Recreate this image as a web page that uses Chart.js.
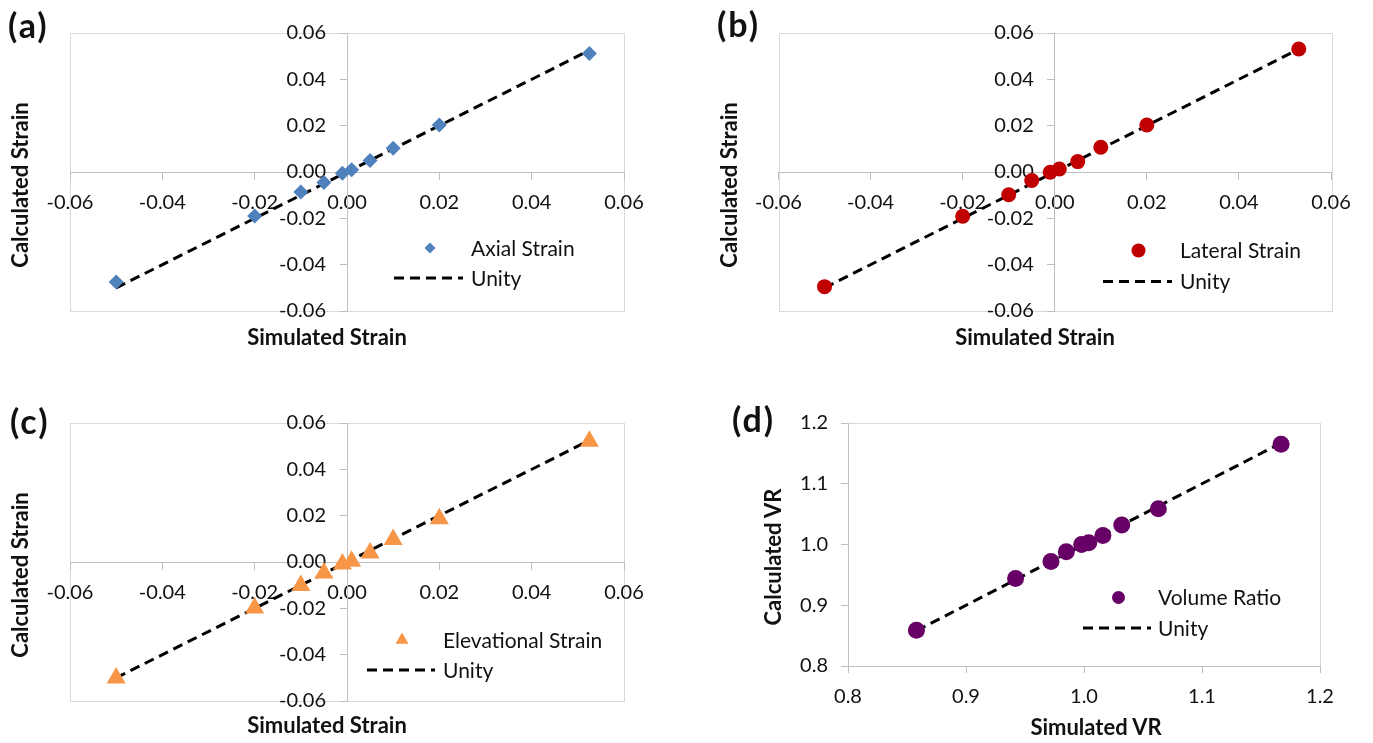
<!DOCTYPE html>
<html>
<head>
<meta charset="utf-8">
<script src="https://cdn.jsdelivr.net/npm/chart.js@4/dist/chart.umd.min.js"></script>
<style>
html,body{margin:0;padding:0;background:#fff;width:1373px;height:743px;overflow:hidden;font-family:Lato,"Open Sans",sans-serif;}
canvas{position:absolute;}
.lbl{position:absolute;color:#111;white-space:nowrap;line-height:1;font-weight:bold;}
.panel{font-size:34px;letter-spacing:2px;transform:translateY(-50%);}
.xt{font-size:22px;transform:translate(-50%,-50%);}
.yt{font-size:22px;transform:translate(-50%,-50%) rotate(-90deg);}
</style>
</head>
<body>
<canvas id="ca" width="686" height="372" style="left:0;top:0"></canvas>
<canvas id="cb" width="687" height="372" style="left:686px;top:0"></canvas>
<canvas id="cc" width="686" height="371" style="left:0;top:372px"></canvas>
<canvas id="cd" width="687" height="371" style="left:686px;top:372px"></canvas>

<div class="lbl panel" style="left:8px;top:25px">(a)</div>
<div class="lbl panel" style="left:717px;top:24px">(b)</div>
<div class="lbl panel" style="left:10px;top:421px">(c)</div>
<div class="lbl panel" style="left:732px;top:419px">(d)</div>

<div class="lbl xt" style="left:327px;top:337px">Simulated Strain</div>
<div class="lbl yt" style="left:20px;top:185px">Calculated Strain</div>
<div class="lbl xt" style="left:1035px;top:337px">Simulated Strain</div>
<div class="lbl yt" style="left:729px;top:185px">Calculated Strain</div>
<div class="lbl xt" style="left:327px;top:725px">Simulated Strain</div>
<div class="lbl yt" style="left:20px;top:575px">Calculated Strain</div>
<div class="lbl xt" style="left:1096px;top:727px">Simulated VR</div>
<div class="lbl yt" style="left:773px;top:557px">Calculated VR</div>

<script>
// ---------- data ----------
const strainTicks = [-0.06, -0.04, -0.02, 0, 0.02, 0.04, 0.06];
const vrTicks = [0.8, 0.9, 1.0, 1.1, 1.2];

const axialSim  = [-0.05, -0.02, -0.01, -0.005, -0.001, 0.001, 0.005, 0.01, 0.02, 0.0525];
const axialCalc = [-0.0475, -0.019, -0.0086, -0.0045, -0.0005, 0.001, 0.005, 0.0102, 0.0203, 0.0512];

const lateralSim  = [-0.05, -0.02, -0.01, -0.005, -0.001, 0.001, 0.005, 0.01, 0.02, 0.053];
const lateralCalc = [-0.0495, -0.0191, -0.0098, -0.0037, -0.0001, 0.0013, 0.0045, 0.0107, 0.0203, 0.0531];

const elevSim  = [-0.05, -0.02, -0.01, -0.005, -0.001, 0.001, 0.005, 0.01, 0.02, 0.0525];
const elevCalc = [-0.0501, -0.0199, -0.0101, -0.0047, -0.0009, 0.0003, 0.0039, 0.0097, 0.0187, 0.0521];

const vrSim  = [0.858, 0.942, 0.972, 0.985, 0.998, 1.004, 1.016, 1.032, 1.063, 1.167];
const vrCalc = [0.859, 0.944, 0.972, 0.988, 1.000, 1.003, 1.015, 1.032, 1.059, 1.165];

const unityStrainX = [-0.05, 0.053];
const unityStrainY = [-0.05, 0.053];
const unityVRX = [0.858, 1.167];
const unityVRY = [0.858, 1.167];

// ---------- helpers ----------
const FONT = 'Lato';
const TXT = '#111';
const AXIS = '#bfbfbf';
const BORDER = '#d9d9d9';

function pts(xs, ys) { return xs.map((x, i) => ({ x: x, y: ys[i] })); }

// linear scale whose tick labels can be nudged sideways (for axes crossing at zero)
class CrossLinear extends Chart.LinearScale {
  _computeLabelItems(chartArea) {
    const items = super._computeLabelItems(chartArea);
    const sh = this.options.labelShiftX || 0;
    if (sh) items.forEach(it => { it.options.translation[0] += sh; });
    return items;
  }
}
CrossLinear.id = 'crossLinear';
CrossLinear.defaults = Chart.LinearScale.defaults;
Chart.register(CrossLinear);

const plotBorder = {
  id: 'plotBorder',
  beforeDraw(chart) {
    const a = chart.chartArea, ctx = chart.ctx;
    ctx.save();
    ctx.strokeStyle = BORDER;
    ctx.lineWidth = 1;
    ctx.strokeRect(Math.round(a.left) + 0.5, Math.round(a.top) + 0.5,
                   Math.round(a.right - a.left), Math.round(a.bottom - a.top));
    ctx.restore();
  }
};

const panelLegend = {
  id: 'panelLegend',
  afterDraw(chart, args, opts) {
    if (!opts || !opts.items) return;
    const ctx = chart.ctx;
    const ds = chart.data.datasets;
    ctx.save();
    opts.items.forEach(it => {
      const d = ds[it.dataset];
      if (it.kind === 'point') {
        ctx.fillStyle = d.backgroundColor;
        ctx.strokeStyle = d.borderColor;
        Chart.helpers.drawPoint(ctx, { pointStyle: d.pointStyle, radius: it.radius, borderWidth: 0, rotation: 0 }, it.mx, it.my);
      } else {
        ctx.strokeStyle = d.borderColor;
        ctx.lineWidth = d.borderWidth;
        ctx.setLineDash(d.borderDash);
        ctx.beginPath();
        ctx.moveTo(it.x1, it.my);
        ctx.lineTo(it.x2, it.my);
        ctx.stroke();
        ctx.setLineDash([]);
      }
      ctx.fillStyle = TXT;
      ctx.font = '21px ' + FONT;
      ctx.textBaseline = 'middle';
      ctx.textAlign = 'left';
      ctx.fillText(d.label, it.tx, it.my + 1);
    });
    ctx.restore();
  }
};

function tickSet(arr) { return s => { s.ticks = arr.map(v => ({ value: v })); }; }

function baseScale(ticksArr, lo, hi, dec) {
  return {
    type: 'crossLinear', min: lo, max: hi,
    afterBuildTicks: tickSet(ticksArr),
    grid: { drawOnChartArea: false, drawTicks: true, tickLength: 7, color: AXIS, lineWidth: 1 },
    border: { color: AXIS, width: 1 },
    ticks: { font: { family: FONT, size: 20 }, color: TXT, autoSkip: false, maxRotation: 0,
             callback: v => Number(v).toFixed(dec) }
  };
}

function centeredScales(ticksArr, lo, hi, dec) {
  const x = baseScale(ticksArr, lo, hi, dec);
  const y = baseScale(ticksArr, lo, hi, dec);
  x.position = { y: 0 };
  x.afterFit = s => { s.height = 0; };
  x.ticks.padding = 12;
  y.position = { x: 0 };
  y.afterFit = s => { s.width = 0; };
  y.labelShiftX = -21;
  return { x: x, y: y };
}

function edgeScales(ticksArr, lo, hi, dec) {
  const x = baseScale(ticksArr, lo, hi, dec);
  const y = baseScale(ticksArr, lo, hi, dec);
  x.position = 'bottom';
  x.afterFit = s => { s.height = 50; };
  x.ticks.padding = 12;
  y.position = 'left';
  y.afterFit = s => { s.width = 70; };
  y.ticks.padding = 13;
  return { x: x, y: y };
}

function makeChart(id, pointDs, unityX, unityY, scales, padding, legendItems) {
  return new Chart(document.getElementById(id), {
    type: 'scatter',
    data: {
      datasets: [
        Object.assign({ borderWidth: 0, pointHoverRadius: pointDs.pointRadius }, pointDs),
        { label: 'Unity', data: pts(unityX, unityY), showLine: true, borderColor: '#000',
          backgroundColor: '#000', borderWidth: 3, borderDash: [10, 6], pointRadius: 0,
          pointHoverRadius: 0, fill: false, tension: 0 }
      ]
    },
    options: {
      responsive: false, animation: false, events: [],
      layout: { padding: padding },
      scales: scales,
      plugins: { legend: { display: false }, tooltip: { enabled: false },
                 panelLegend: { items: legendItems } }
    },
    plugins: [plotBorder, panelLegend]
  });
}

// (a) Axial
makeChart('ca',
  { label: 'Axial Strain', data: pts(axialSim, axialCalc), pointStyle: 'rectRot', pointRadius: 7.5,
    backgroundColor: '#4f81bd', borderColor: '#4f81bd' },
  unityStrainX, unityStrainY,
  centeredScales(strainTicks, -0.06, 0.06, 2),
  { left: 70, right: 62, top: 33, bottom: 61 },
  [ { dataset: 0, kind: 'point', radius: 5.5, mx: 430, my: 248, tx: 471 },
    { dataset: 1, kind: 'line', x1: 394, x2: 463, my: 278, tx: 471 } ]);

// (b) Lateral
makeChart('cb',
  { label: 'Lateral Strain', data: pts(lateralSim, lateralCalc), pointStyle: 'circle', pointRadius: 7.5,
    backgroundColor: '#c00000', borderColor: '#c00000' },
  unityStrainX, unityStrainY,
  centeredScales(strainTicks, -0.06, 0.06, 2),
  { left: 92.5, right: 42, top: 33, bottom: 61 },
  [ { dataset: 0, kind: 'point', radius: 7, mx: 452.5, my: 250.5, tx: 494 },
    { dataset: 1, kind: 'line', x1: 417, x2: 486, my: 281.5, tx: 494 } ]);

// (c) Elevational
makeChart('cc',
  { label: 'Elevational Strain', data: pts(elevSim, elevCalc), pointStyle: 'triangle', pointRadius: 11,
    backgroundColor: '#f79646', borderColor: '#f79646' },
  unityStrainX, unityStrainY,
  centeredScales(strainTicks, -0.06, 0.06, 2),
  { left: 70, right: 62, top: 51, bottom: 42 },
  [ { dataset: 0, kind: 'point', radius: 7.5, mx: 402, my: 268, tx: 443 },
    { dataset: 1, kind: 'line', x1: 367, x2: 435, my: 298, tx: 443 } ]);

// (d) Volume ratio
makeChart('cd',
  { label: 'Volume Ratio', data: pts(vrSim, vrCalc), pointStyle: 'circle', pointRadius: 8.5,
    backgroundColor: '#660066', borderColor: '#660066' },
  unityVRX, unityVRY,
  edgeScales(vrTicks, 0.8, 1.2, 1),
  { left: 92, right: 53, top: 51, bottom: 27 },
  [ { dataset: 0, kind: 'point', radius: 6.5, mx: 432.5, my: 225.5, tx: 472 },
    { dataset: 1, kind: 'line', x1: 397, x2: 465, my: 256, tx: 472 } ]);
</script>
</body>
</html>
